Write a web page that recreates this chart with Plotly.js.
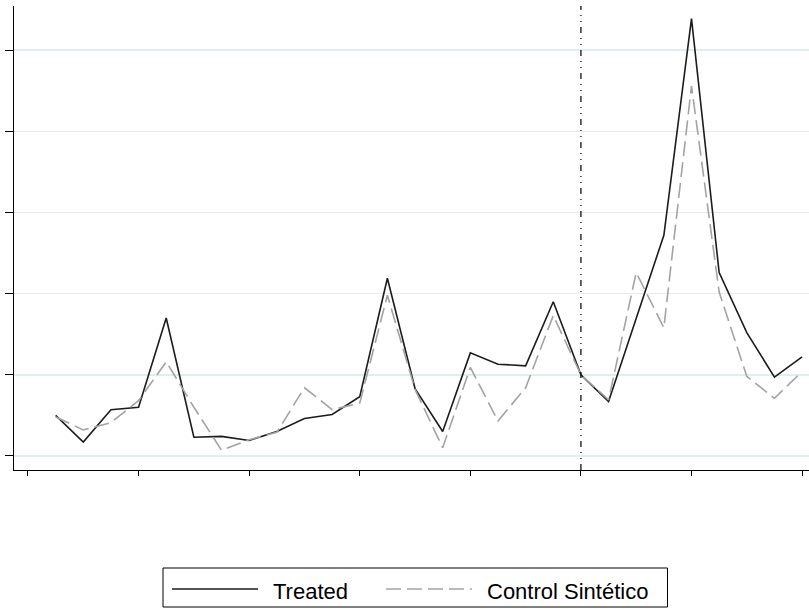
<!DOCTYPE html>
<html>
<head>
<meta charset="utf-8">
<script src="https://cdn.plot.ly/plotly-3.0.1.min.js"></script>
<style>html,body{margin:0;padding:0;background:#fff;}#chart{width:809px;height:609px;}</style>
</head>
<body>
<div id="chart"></div>
<script>
// Periods (no tick labels shown in the reference)
var periods = [1,2,3,4,5,6,7,8,9,10,11,12,13,14,15,16,17,18,19,20,21,22,23,24,25,26,27,28];
var treated = [0.50,0.17,0.57,0.60,1.70,0.23,0.24,0.19,0.30,0.46,0.51,0.73,2.19,0.83,0.30,1.27,1.13,1.11,1.90,1.00,0.67,1.70,2.72,5.39,2.26,1.52,0.97,1.22];
var control = [0.48,0.32,0.41,0.68,1.16,0.60,0.07,0.20,0.29,0.84,0.57,0.65,1.98,0.82,0.10,1.09,0.43,0.84,1.73,1.00,0.69,2.26,1.58,4.56,2.02,0.98,0.71,1.04];
var treatmentPeriod = 20;
var seriesNames = ["Treated", "Control Sintético"];

var W = 809, H = 609;
var M = {l: 14, r: 0, t: 6, b: 139};
var pw = W - M.l - M.r, ph = H - M.t - M.b;
function px(x){ return (x - M.l) / pw; }
function py(y){ return (H - M.b - y) / ph; }

var traces = [
  {x: periods, y: treated, name: seriesNames[0], type: 'scatter', mode: 'lines',
   line: {color: '#1c1c1c', width: 1.6}, showlegend: false},
  {x: periods, y: control, name: seriesNames[1], type: 'scatter', mode: 'lines',
   line: {color: '#a3a3a3', width: 1.6, dash: '15px,6px'}, showlegend: false}
];

var FONT = 'Liberation Sans, Arial, sans-serif';
var layout = {
  width: W, height: H,
  margin: M,
  paper_bgcolor: '#ffffff', plot_bgcolor: '#ffffff',
  showlegend: false,
  xaxis: {range: [-0.506, 28.25], tick0: 0, dtick: 4, ticks: 'outside', ticklen: 5,
          tickwidth: 1, tickcolor: '#000', showticklabels: false, showgrid: false,
          zeroline: false, showline: true, linecolor: '#000', linewidth: 1.2},
  yaxis: {range: [-0.174, 5.546], tick0: 0, dtick: 1, ticks: 'outside', ticklen: 8,
          tickwidth: 1, tickcolor: '#000', showticklabels: false, showgrid: true,
          gridcolor: '#e3edf0', gridwidth: 1.6, zeroline: false, showline: true,
          linecolor: '#000', linewidth: 1.2},
  shapes: [
    {type: 'line', xref: 'x', yref: 'paper', x0: treatmentPeriod, x1: treatmentPeriod, y0: 0, y1: 1,
     line: {color: '#111', width: 1.3, dash: '6px,5px,1px,5px,1px,5px'}},
    // legend box
    {type: 'rect', xref: 'paper', yref: 'paper', x0: px(163), x1: px(667.5), y0: py(607), y1: py(568),
     line: {color: '#000', width: 1}, fillcolor: 'rgba(0,0,0,0)'},
    {type: 'line', xref: 'paper', yref: 'paper', x0: px(172), x1: px(258), y0: py(589), y1: py(589),
     line: {color: '#1c1c1c', width: 1.6}},
    {type: 'line', xref: 'paper', yref: 'paper', x0: px(386), x1: px(472), y0: py(589), y1: py(589),
     line: {color: '#a3a3a3', width: 1.6, dash: '15px,6px'}}
  ],
  annotations: [
    {xref: 'paper', yref: 'paper', x: px(271), y: py(591), xanchor: 'left', yanchor: 'middle',
     text: seriesNames[0], showarrow: false, font: {family: FONT, size: 22, color: '#000'}},
    {xref: 'paper', yref: 'paper', x: px(485), y: py(591), xanchor: 'left', yanchor: 'middle',
     text: seriesNames[1], showarrow: false, font: {family: FONT, size: 22, color: '#000'}}
  ],
  font: {family: FONT}
};

Plotly.newPlot('chart', traces, layout, {displayModeBar: false, staticPlot: true});
</script>
</body>
</html>
